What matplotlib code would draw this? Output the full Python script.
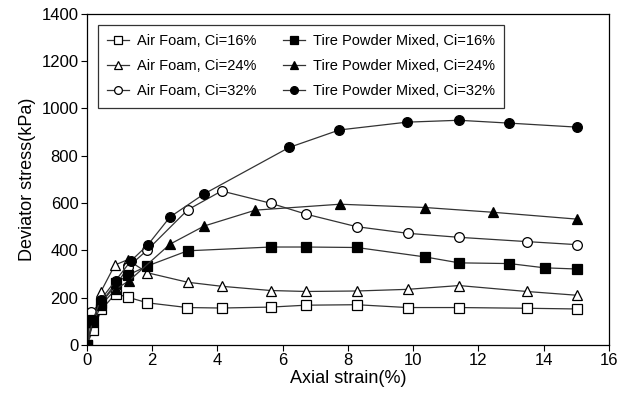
import matplotlib.pyplot as plt

plt.rcParams['font.family'] = ['Liberation Sans', 'DejaVu Sans']

# Air foam samples
af16_x = [0, 0.19, 0.45, 0.88, 1.25, 1.86, 3.08, 4.13, 5.64, 6.72, 8.27, 9.83, 11.41, 13.48, 15.02]
af16_y = [0, 62, 150, 216, 202, 178, 158, 156, 160, 168, 170, 158, 158, 155, 152]

af24_x = [0, 0.19, 0.42, 0.86, 1.25, 1.86, 3.09, 4.13, 5.64, 6.72, 8.27, 9.83, 11.41, 13.48, 15.02]
af24_y = [0, 100, 222, 338, 360, 305, 265, 248, 230, 226, 228, 235, 251, 226, 210]

af32_x = [0, 0.14, 0.45, 0.88, 1.27, 1.86, 3.09, 4.13, 5.64, 6.72, 8.27, 9.83, 11.41, 13.48, 15.02]
af32_y = [0, 140, 180, 250, 330, 402, 571, 651, 599, 553, 500, 472, 455, 437, 424]

# Tire powder mixed samples
tp16_x = [0, 0.19, 0.42, 0.89, 1.27, 1.86, 3.09, 5.64, 6.72, 8.27, 10.37, 11.41, 12.95, 14.03, 15.02]
tp16_y = [0, 106, 176, 261, 296, 334, 398, 414, 414, 412, 372, 347, 344, 326, 321]

tp24_x = [0, 0.2, 0.45, 0.88, 1.3, 2.55, 3.6, 5.17, 7.76, 10.37, 12.44, 15.02]
tp24_y = [0, 95, 170, 235, 272, 426, 503, 570, 595, 581, 561, 532]

tp32_x = [0, 0.19, 0.42, 0.88, 1.35, 1.87, 2.55, 3.6, 6.2, 7.74, 9.81, 11.4, 12.94, 15.02]
tp32_y = [0, 106, 190, 272, 355, 423, 541, 639, 835, 909, 942, 950, 938, 921]

fig = plt.figure(figsize=(6.29, 3.96), dpi=100)
ax = fig.add_axes([0.138, 0.129, 0.830, 0.836])

line_kw = dict(color='#333333', linewidth=0.9, markersize=7, markeredgewidth=0.9)
open_kw = dict(markerfacecolor='white', markeredgecolor='black', **line_kw)
fill_kw = dict(markerfacecolor='black', markeredgecolor='black', **line_kw)

ax.plot(af16_x, af16_y, marker='s', label='Air Foam, Ci=16%', **open_kw)
ax.plot(af24_x, af24_y, marker='^', label='Air Foam, Ci=24%', **open_kw)
ax.plot(af32_x, af32_y, marker='o', label='Air Foam, Ci=32%', **open_kw)
ax.plot(tp16_x, tp16_y, marker='s', label='Tire Powder Mixed, Ci=16%', **fill_kw)
ax.plot(tp24_x, tp24_y, marker='^', label='Tire Powder Mixed, Ci=24%', **fill_kw)
ax.plot(tp32_x, tp32_y, marker='o', label='Tire Powder Mixed, Ci=32%', **fill_kw)

ax.set_xlim(0, 16)
ax.set_ylim(0, 1400)
ax.set_xticks(range(0, 17, 2))
ax.set_yticks(range(0, 1401, 200))
ax.tick_params(axis='both', labelsize=12, direction='out', length=4, width=0.8, pad=2)
ax.set_xlabel('Axial strain(%)', fontsize=13, labelpad=1)
ax.set_ylabel('Deviator stress(kPa)', fontsize=13, labelpad=4)
for s in ax.spines.values():
    s.set_linewidth(0.9)

leg = ax.legend(ncol=2, loc='upper left', bbox_to_anchor=(0.021, 0.967), fontsize=10.5,
                frameon=True, fancybox=False, edgecolor='black', handlelength=1.5,
                columnspacing=1.8, borderpad=0.65, labelspacing=0.75, handletextpad=0.55,
                markerscale=0.8, borderaxespad=0)
leg.get_frame().set_linewidth(0.9)

fig.savefig('out.png', dpi=100)
